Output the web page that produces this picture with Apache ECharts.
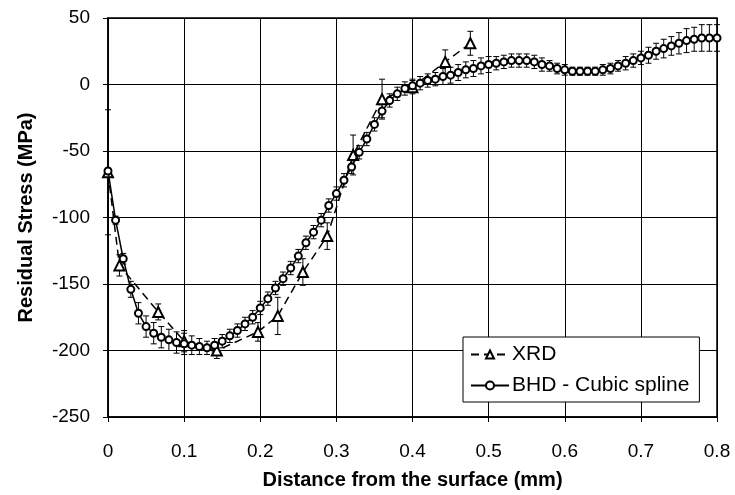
<!DOCTYPE html>
<html>
<head>
<meta charset="utf-8">
<script src="https://cdn.jsdelivr.net/npm/echarts@6/dist/echarts.min.js"></script>
<style>
html,body{margin:0;padding:0;background:#fff;}
#c{width:735px;height:495px;}
</style>
</head>
<body>
<div id="c"></div>
<script>
// ---- data ----
const xTicks = [0, 0.1, 0.2, 0.3, 0.4, 0.5, 0.6, 0.7, 0.8];
const yTicks = [-250, -200, -150, -100, -50, 0, 50];

const bhdX = [0.00,0.01,0.02,0.03,0.04,0.05,0.06,0.07,0.08,0.09,0.10,0.11,0.12,0.13,0.14,0.15,0.16,0.17,0.18,0.19,0.20,0.21,0.22,0.23,0.24,0.25,0.26,0.27,0.28,0.29,0.30,0.31,0.32,0.33,0.34,0.35,0.36,0.37,0.38,0.39,0.40,0.41,0.42,0.43,0.44,0.45,0.46,0.47,0.48,0.49,0.50,0.51,0.52,0.53,0.54,0.55,0.56,0.57,0.58,0.59,0.60,0.61,0.62,0.63,0.64,0.65,0.66,0.67,0.68,0.69,0.70,0.71,0.72,0.73,0.74,0.75,0.76,0.77,0.78,0.79,0.80];
const bhdY = [-65,-102,-131,-154,-172,-182,-187,-190,-192,-194,-195,-196,-197,-198,-196,-193,-189,-185,-180,-175,-168,-161,-153,-146,-138,-129,-119,-111,-102,-91,-82,-72,-62,-51,-41,-30,-20,-12,-7,-3,-1,1,3,4,6,7,9,11,12,14,15,16,17,18,18,18,17,15,14,12,11,10,10,10,10,11,12,14,16,18,20,22,25,27,29,31,33,34,35,35,35];
const bhdErr = [2,3,4,6,8,8,8,8,8,8,8,7,6,5,5,5,5,5,5,5,5,5,5,5,5,5,5,5,5,5,5,5,5,5,5,5,5,5,5,5,5,5,5,5,6,6,6,6,6,6,6,5,5,5,5,5,5,5,4,4,4,3,3,3,3,4,4,4,5,5,5,6,6,7,7,8,9,9,10,10,10];

const xrdX = [0, 0.015, 0.066, 0.1, 0.143, 0.197, 0.223, 0.256, 0.288, 0.322, 0.36, 0.4, 0.443, 0.476];
const xrdY = [-66, -136, -171, -193, -200, -186, -174, -141, -114, -53, -11, -2, 17, 31];
const xrdErr = [47, 8, 6, 8, 6, 7, 14, 10, 10, 15, 15, 5, 9, 9];

const seriesNames = ['XRD', 'BHD - Cubic spline'];

// ---- build ----
const zip = (xs, ys) => xs.map((x, i) => [x, ys[i]]);
const errData = (xs, ys, es) => xs.map((x, i) => [x, ys[i] - es[i], ys[i] + es[i]]);

function errRender(params, api) {
  const x = api.value(0);
  const lo = api.coord([x, api.value(1)]);
  const hi = api.coord([x, api.value(2)]);
  const w = 3;
  const st = { stroke: '#000', lineWidth: 1 };
  return {
    type: 'group',
    children: [
      { type: 'line', shape: { x1: lo[0], y1: lo[1], x2: hi[0], y2: hi[1] }, style: st },
      { type: 'line', shape: { x1: lo[0] - w, y1: lo[1], x2: lo[0] + w, y2: lo[1] }, style: st },
      { type: 'line', shape: { x1: hi[0] - w, y1: hi[1], x2: hi[0] + w, y2: hi[1] }, style: st }
    ]
  };
}

const FONT = '"Liberation Sans", Arial, sans-serif';
const chart = echarts.init(document.getElementById('c'), null, { renderer: 'canvas' });
chart.setOption({
  animation: false,
  backgroundColor: '#fff',
  grid: { left: 108, right: 18, top: 18, bottom: 77, show: true, borderColor: '#000', borderWidth: 1.5 },
  xAxis: {
    type: 'value', min: 0, max: 0.8, interval: 0.1,
    name: 'Distance from the surface (mm)', nameLocation: 'middle', nameGap: 53,
    nameTextStyle: { fontFamily: FONT, fontWeight: 'bold', fontSize: 20, color: '#000' },
    axisLine: { show: true, onZero: false, lineStyle: { color: '#000', width: 1.5 } },
    axisTick: { show: true, inside: false, length: 5, lineStyle: { color: '#000' } },
    axisLabel: { fontFamily: FONT, fontSize: 19, color: '#000', margin: 25,
      formatter: v => (xTicks.indexOf(+v.toFixed(1)) >= 0 ? (v === 0 ? '0' : v.toFixed(1)) : '') },
    splitLine: { show: true, lineStyle: { color: '#000', width: 1 } }
  },
  yAxis: {
    type: 'value', min: -250, max: 50, interval: 50,
    name: 'Residual Stress (MPa)', nameLocation: 'middle', nameGap: 72, nameRotate: 90,
    nameTextStyle: { fontFamily: FONT, fontWeight: 'bold', fontSize: 20, color: '#000' },
    axisLine: { show: true, onZero: false, lineStyle: { color: '#000', width: 1.5 } },
    axisTick: { show: true, inside: false, length: 5, lineStyle: { color: '#000' } },
    axisLabel: { fontFamily: FONT, fontSize: 19, color: '#000', margin: 18,
      formatter: v => (yTicks.indexOf(v) >= 0 ? String(v) : '') },
    splitLine: { show: true, lineStyle: { color: '#000', width: 1 } }
  },
  legend: {
    left: 463, top: 337, orient: 'vertical',
    data: seriesNames,
    backgroundColor: '#fff', borderColor: '#000', borderWidth: 1,
    padding: [7, 10, 6, 7], itemGap: 10, itemWidth: 38, itemHeight: 10,
    textStyle: { fontFamily: FONT, fontSize: 21, color: '#000', padding: [0, 0, 0, -2] }
  },
  series: [
    {
      type: 'custom', name: 'xrdErr', renderItem: errRender, silent: true,
      data: errData(xrdX, xrdY, xrdErr), encode: { x: 0, y: [1, 2] }, z: 2
    },
    {
      type: 'custom', name: 'bhdErr', renderItem: errRender, silent: true,
      data: errData(bhdX, bhdY, bhdErr), encode: { x: 0, y: [1, 2] }, z: 2
    },
    {
      name: seriesNames[0], type: 'line', data: zip(xrdX, xrdY),
      symbol: 'emptyTriangle', symbolSize: 10, showAllSymbol: true,
      lineStyle: { color: '#000', width: 1.5, type: [8, 5] },
      itemStyle: { color: '#000', borderColor: '#000', borderWidth: 1 }, z: 3
    },
    {
      name: seriesNames[1], type: 'line', data: zip(bhdX, bhdY),
      symbol: 'emptyCircle', symbolSize: 7, showAllSymbol: true,
      lineStyle: { color: '#000', width: 1.5 },
      itemStyle: { color: '#000', borderColor: '#000', borderWidth: 1 }, z: 4
    }
  ]
});
</script>
</body>
</html>
